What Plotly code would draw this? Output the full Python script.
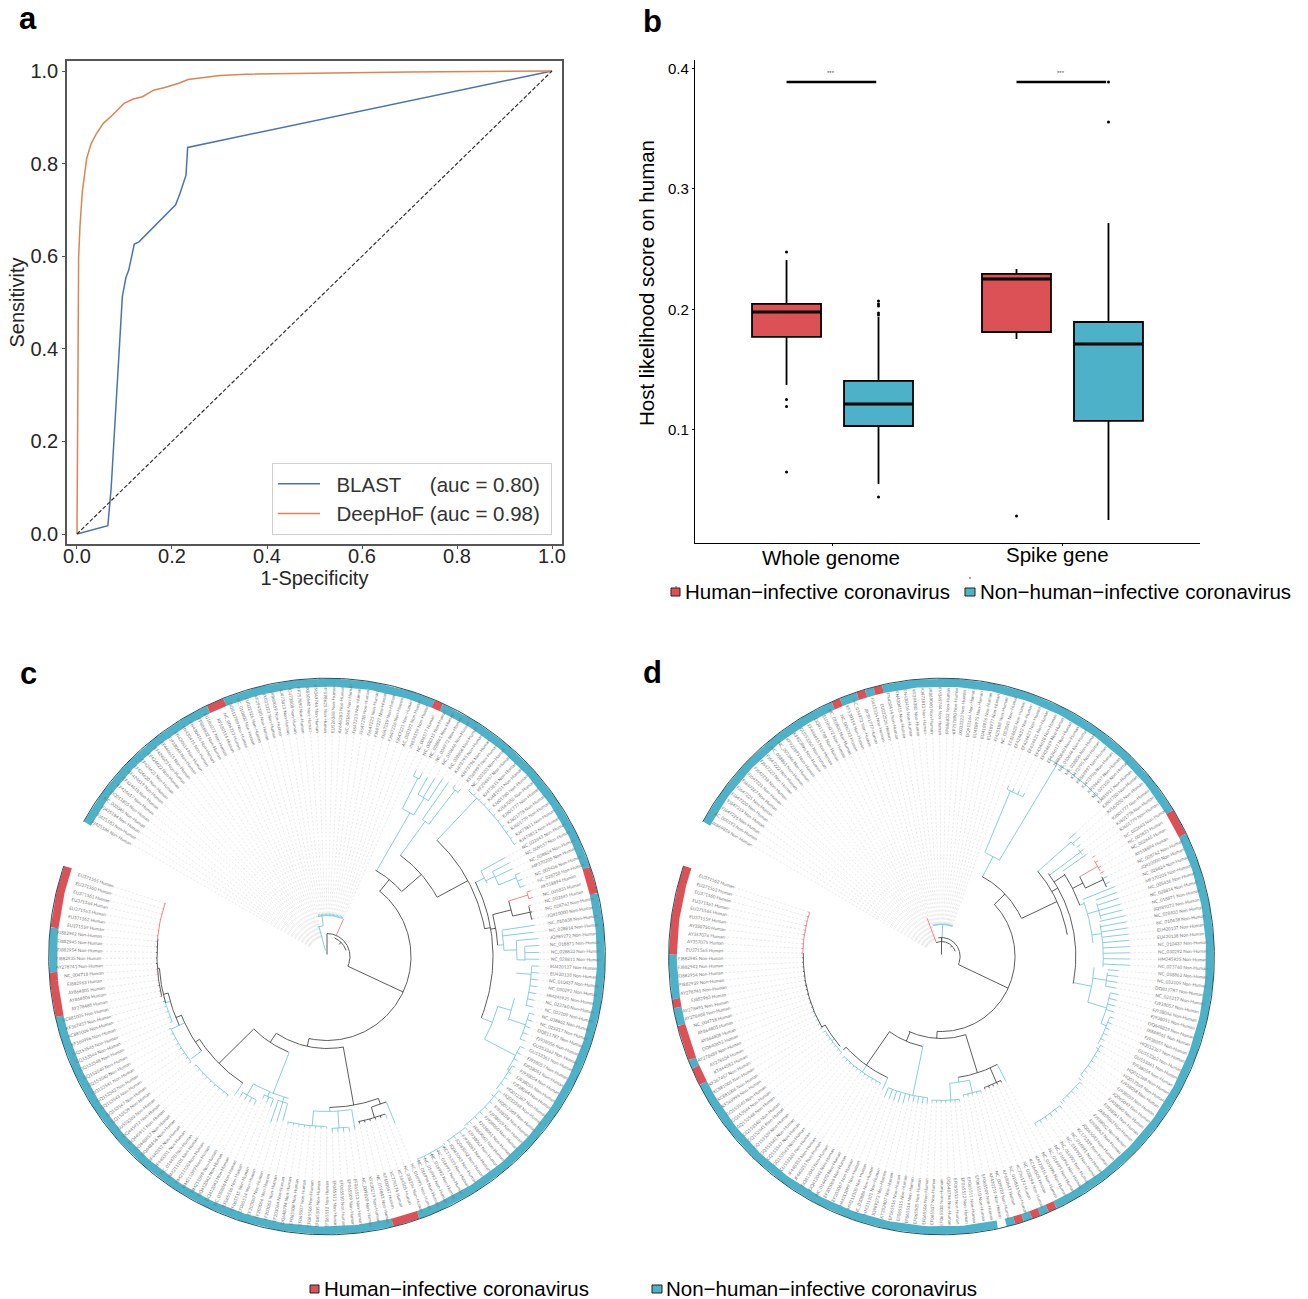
import numpy as np
import plotly.graph_objects as go

W, H = 1308, 1299
FONT = "Liberation Sans"
RED, TEAL = "#DB5155", "#4DB1C7"
TREE = {"k": "#4a4a4a", "b": "#79C8DA", "r": "#EC7A7F", "n": None}

# ---------- panel a ----------
blast_x = [0, 0.065, 0.072, 0.08, 0.087, 0.0905, 0.092, 0.0955, 0.103, 0.109, 0.115, 0.1207, 0.1305, 0.2077, 0.217, 0.2238, 0.2295, 0.233, 1.0]
blast_y = [0, 0.018, 0.1, 0.25, 0.38, 0.419, 0.455, 0.5125, 0.554, 0.570, 0.599, 0.6263, 0.631, 0.711, 0.736, 0.757, 0.775, 0.835, 1.0]
deep_x = [0, 0.0005, 0.001, 0.0015, 0.0035, 0.0063, 0.0112, 0.0204, 0.0295, 0.04, 0.0554, 0.075, 0.099, 0.1185, 0.138, 0.161, 0.185, 0.213, 0.234, 0.259, 0.301, 0.357, 0.469, 0.7, 1.0]
deep_y = [0, 0.1, 0.3, 0.419, 0.599, 0.664, 0.739, 0.811, 0.842, 0.863, 0.887, 0.905, 0.930, 0.9395, 0.9445, 0.9585, 0.9643, 0.973, 0.9817, 0.985, 0.9903, 0.9931, 0.9952, 0.998, 1.0]
chance = [0, 1]
roc_ticks = [0, 0.2, 0.4, 0.6, 0.8, 1.0]

# ---------- panel b ----------
box_groups = ["Whole genome", "Spike gene"]
x_human, x_non = [0.8, 1.8], [1.2, 2.2]
human_q1 = [0.1772, 0.1813]; human_med = [0.1979, 0.2253]; human_q3 = [0.2046, 0.2295]
human_lo = [0.1373, 0.1755]; human_hi = [0.2411, 0.2336]
non_q1 = [0.1033, 0.1075]; non_med = [0.1216, 0.1714]; non_q3 = [0.1407, 0.1896]
non_lo = [0.0552, 0.0253]; non_hi = [0.1938, 0.2718]
out_x = [0.8, 0.8, 0.8, 0.8, 1.2, 1.2, 1.2, 1.2, 1.2, 1.2, 1.8, 2.2, 2.2]
out_y = [0.2477, 0.1253, 0.1195, 0.0651, 0.2071, 0.2046, 0.2029, 0.1971, 0.1954, 0.0444, 0.0286, 0.3888, 0.3556]
bracket_x = [[0.8, 1.19], [1.8, 2.19]]
bracket_y = 0.3888
LEG_H = "Human\u2212infective coronavirus"
LEG_N = "Non\u2212human\u2212infective coronavirus"

# ---------- panels c and d: circular trees ----------
N_LEAF, LEAF_STEP, LEAF_START = 188, 1.862, 151.0
acc_c = """FJ425186 FJ425183 FJ425184 NC_003045 DQ011855 EF424617 EF424618 EF424619 EF424620 EF424621
EF424622 EF424623 EF446615 FJ938068 FN430414 FN430415 FN430416 FP886832 EU186072 KF530114
NC_006213 DQ811789 NC_010800 EU022526 KF294380 JX033323 JX869059 KJ473813 KJ473808 KP757890
JX860640 KM349744 MF598625 EU526388 AY646283 NC_001846 FJ647223 FJ647218 FJ647225 FJ647227
FJ647219 FJ647226 FJ647221 AC_000192 JN874559 NC_006577 NC_008315 NC_038861 NC_034972 NC_010646
NC_028806 KJ473795 KJ473796 KF569997 NC_022103 KF294457 KJ473815 KJ481931 KJ601780 KJ567050
KJ601777 KJ601778 KJ601779 KJ473811 KJ473812 NC_022643 NC_009657 NC_028824 MF370205 NC_005436
NC_028758 AY518894 NC_005831 NC_002645 NC_028762 JQ410000 NC_010438 NC_028814 JQ989272 NC_018871
NC_028833 NC_028811 EU420137 EU420138 NC_010437 NC_030292 HM245925 NC_023760 NC_032109 NC_038862
NC_025217 DQ811787 FJ938056 GU553362 GU553361 FJ938057 FJ938051 FJ938054 FJ938055 FJ938064
HQ012367 HQ012368 HQ012369 FJ938058 FJ938059 FJ938060 FJ938061 JX869060 FJ938062 FJ938063
JQ065042 JQ065043 KC175339 NC_016991 NC_016992 NC_016993 NC_016994 NC_016995 NC_038294 KC164505
KC776174 KF600647 NC_019843 KF430219 NC_009020 EF065513 EF065509 EF065510 EF065511 EF065512
EF065505 EF065506 EF065507 EF065508 DQ648794 EF203064 EF203065 EF203066 EF203067 EF065514
EF065515 EF065516 NC_030886 DQ412043 DQ412042 HM211098 HM211099 HM211100 HM211101 NC_014470
JF440351 JF440352 DQ648856 DQ648857 DQ445911 DQ445912 GU553363 GQ153539 GQ153547 GQ153543
GQ153542 GQ153541 GQ153540 GQ153549 GQ153548 GQ153544 GQ153545 KF569996 KC881006 KF367457 KC881005
AY278488 AY864806 AY864805 FJ882963 NC_004718 AY278741 FJ882935 FJ882954 FJ882945 FJ882942
EU371559 EU371562 EU371563 EU371564 EU371561 EU371560 EU371565""".split()
acc_d = """JX869859 AC_000192 FJ647226 FJ647219 FJ647220 FJ647225 FJ647227 FJ647221 FJ647218 FJ647223
FJ647222 NC_038861 NC_001846 KF923895 KF923896 GU553360 EF446615 DQ811789 EU186072 NC_010800
NC_006213 KF530114 NC_034972 AY391777 FJ415324 EU022526 FN430414 FN430415 FN430416 KF294380
KJ473813 JX869060 KM349744 FP886832 KP757890 JX033323 DQ915164 EU418975 EU418976 EU418977
FJ425188 NC_003045 EF424620 EF424622 EF424623 EF424621 EF424618 EF424619 EF424617 JX860640
NC_010646 NC_028806 KJ473795 KF569997 KJ473796 KF294457 NC_022103 KJ481931 KJ601780 KJ567050
KJ601777 KJ601778 KJ601779 NC_022643 NC_005831 NC_002645 AY518894 NC_028762 JQ410000 NC_028824
MF370205 NC_005436 NC_028814 NC_018871 JQ989272 NC_028833 NC_010438 EU420137 EU420138 NC_010437
NC_030292 HM245925 NC_023760 NC_038862 NC_032109 DQ811787 NC_025217 FJ938057 FJ938056 FJ938051
DQ648819 JX869061 FJ938055 HQ012367 GU553362 GU553361 FJ938054 HQ012368 HQ012369 FJ938058
FJ938059 JQ065042 FJ938060 FJ938061 JX869062 FJ938062 FJ938063 JQ065043 KC175339 NC_016991
NC_016992 NC_016993 NC_016994 NC_016995 NC_016996 KJ473816 KC164505 NC_038294 KC776174 NC_019843
KF600647 NC_009020 KF430219 EF065509 EF065510 EF065511 EF065512 EF065513 DQ648794 EF065508
EF065507 EF065506 EF065505 EF065514 EF065515 EF065516 KY352407 JQ989273 HM211101 NC_030886
HM211100 HM211099 EF203067 EF203066 NC_014470 DQ412042 DQ412043 JF440351 JF440352 GU553363
GQ153543 GQ153547 GQ153542 GQ153539 GQ153541 GQ153540 GQ153548 GQ153544 GQ153545 KF569996
KC881006 KC881005 KF367457 KT444582 AY278554 AY278489 DQ640652 AY864806 AY864805 NC_004718
AY278488 AY278491 FJ882963 AY278741 FJ882939 FJ882954 FJ882942 FJ882945
EU371565 AY357075 AY357076 AY350750 EU371559 EU371564 EU371561 EU371560 EU371563 EU371562""".split()
human_c = [19, 20, 45, 71, 72, 73, 119, 120, 121, 171, 172, 173, 174, 175, 181, 182, 183, 184, 185, 186, 187]
human_d = [20, 23, 25, 64, 65, 66, 116, 118, 120, 163, 164, 166, 167, 168, 169, 172, 178, 179, 180, 181, 182, 183, 184, 185, 186, 187]
ring_gap_d = [122]

# leaf runs: count, parent depth, tip depth, colour
leaf_runs_c = [(26, 20, 20, "n"), (19, 41, 43, "b"), (1, 23, 41, "r"), (2, 200, 206, "b"), (1, 186, 205, "b"), (1, 186, 208, "b"),
    (1, 186, 212, "b"), (1, 167, 212, "b"), (2, 210, 214, "b"), (11, 218, 220, "b"), (1, 176, 204, "b"), (2, 186, 205, "b"),
    (3, 205, 210, "b"), (2, 210, 214, "r"), (1, 208, 210, "r"), (1, 208, 210, "k"), (1, 208, 210, "b"), (1, 177, 210, "b"),
    (1, 177, 208, "b"), (1, 190, 212, "b"), (3, 198, 212, "b"), (4, 205, 212, "b"), (3, 205, 212, "b"), (5, 210, 215, "b"),
    (3, 213, 217, "b"), (4, 215, 218, "b"), (7, 218, 221, "b"), (4, 220, 223, "b"), (5, 222, 225, "b"), (1, 157, 180, "b"),
    (1, 168, 172, "b"), (5, 168, 170, "k"), (1, 155, 175, "b"), (4, 172, 176, "b"), (8, 170, 172, "b"), (1, 152, 170, "b"),
    (1, 152, 172, "b"), (1, 152, 175, "b"), (1, 152, 160, "b"), (1, 152, 158, "b"), (1, 152, 156, "b"), (4, 160, 165, "b"),
    (1, 152, 166, "b"), (9, 170, 172, "b"), (8, 172, 174, "b"), (5, 168, 170, "b"), (3, 170, 171, "k"), (3, 170, 171, "r"),
    (5, 170, 171, "k"), (7, 170, 171, "r")]
leaf_runs_d = [(21, 18, 18, "n"), (1, 15, 41, "r"), (2, 18, 18, "n"), (20, 32, 33, "b"), (4, 180, 184, "b"), (10, 226, 228, "b"),
    (2, 175, 185, "b"), (2, 176, 180, "b"), (1, 150, 180, "b"), (3, 183, 186, "r"), (1, 182, 186, "r"), (2, 182, 187, "b"),
    (1, 155, 190, "b"), (4, 167, 190, "b"), (9, 165, 192, "b"), (4, 170, 181, "b"), (4, 176, 184, "b"), (5, 182, 186, "b"),
    (1, 185, 188, "b"), (6, 185, 188, "b"), (5, 189, 192, "b"), (6, 192, 195, "b"), (1, 122, 141, "b"), (5, 138, 140, "k"),
    (5, 140, 142, "b"), (7, 144, 146, "b"), (5, 142, 148, "b"), (5, 142, 152, "b"), (1, 133, 146, "b"), (11, 141, 143, "b"),
    (7, 140, 142, "b"), (5, 141, 143, "b"), (12, 141, 142, "k"), (10, 141.5, 143, "r")]

# internal nodes: angle, parent depth, depth, arc start angle, arc end angle, colour
nodes_c = [(90, 2, 23, 90, -25, "k"), (45, 17, 20, 68, 18, "k"), (105, 6, 31, 108, 97, "b"), (97, 31, 41, 102.8, 68.2, "b"),
    (-25, 23, 84, 51.5, -102.4, "k"), (51, 84, 99, 60.7, 41.2, "k"), (60, 99, 166, 63, 58.5, "b"), (63, 166, 200, 64.4, 62.6, "b"),
    (58.5, 166, 186, 60.7, 56.9, "b"), (41, 99, 125, 54.1, 28.5, "k"), (54, 125, 167, 55.1, 52.4, "b"), (52.4, 167, 210, 53.2, 51.3, "b"),
    (28.3, 125, 160, 46.6, 10, "k"), (46.6, 160, 218, 49.5, 30.9, "b"), (10, 160, 166, 26.7, -21.7, "k"), (26.5, 166, 176, 29, 24.6, "b"),
    (25.5, 176, 186, 27.1, 22.6, "b"), (22.6, 186, 205, 23.4, 19.6, "b"), (9.5, 166, 171, 14.2, 3.8, "k"), (14.2, 171, 190, 17, 12.3, "k"),
    (17, 190, 210, 17.7, 15.9, "r"), (12.3, 190, 208, 14, 10.2, "k"), (3.8, 171, 177, 8.4, 2, "b"), (2, 177, 190, 4.6, -1, "b"),
    (-1, 190, 198, 2.8, -1.2, "b"), (-5, 190, 205, -2.8, -14, "b"), (-21.7, 166, 178, -16.3, -27.7, "b"), (-16.3, 178, 192, -12.5, -19.5, "b"),
    (-19, 192, 210, -15.7, -23.2, "b"), (-27.7, 178, 213, -25, -32, "b"), (-32, 213, 215, -30.6, -38, "b"), (-40, 215, 218, -38, -51, "b"),
    (-50, 218, 220, -51, -57, "b"), (-58, 220, 222, -58.5, -66, "b"), (-102.4, 84, 92, -123.3, -79.7, "k"), (-123.5, 92, 103, -135.2, -111.9, "k"),
    (-79.8, 92, 151, -89, -70.1, "k"), (-70.1, 151, 157, -67.9, -73.6, "k"), (-73.6, 157, 168, -69.8, -79.2, "k"), (-89, 151, 155, -81, -95, "b"),
    (-86, 155, 172, -82.9, -88.5, "b"), (-95, 155, 170, -90.4, -103.4, "b"), (-111.5, 103, 147, -105.2, -120, "b"), (-107, 147, 152, -105.2, -108.9, "b"),
    (-113, 147, 152, -110.8, -114.6, "b"), (-120, 147, 160, -116.4, -122, "b"), (-135.3, 103, 152, -123.6, -147, "k"), (-147, 152, 157, -143, -158, "k"),
    (-158, 157, 163, -155, -167, "k"), (-167, 163, 168, -164, -176, "k"), (-176, 168, 170, -166.7, -186, "k"), (-186, 170, 170.5, -186, -198.3, "r"),
    (-143, 157, 170, -125.5, -140.4, "b"), (-155, 157, 172, -142.3, -155.3, "b"), (-164, 163, 168, -157.2, -164.6, "b")]
nodes_d = [(90, 2, 19, 100, -25, "k"), (45, 13, 15, 111.9, 20, "k"), (88, 15, 32, 105.4, 70, "b"), (-25, 19, 75, 44, -93.4, "k"),
    (44, 75, 90, 62.5, 25.2, "k"), (62.3, 90, 113, 66.7, 58.2, "b"), (67, 113, 180, 68.1, 62.6, "b"), (58.5, 113, 226, 60.7, 43.8, "b"),
    (25, 90, 130, 41, 9.7, "k"), (40.9, 130, 175, 41, 39.2, "b"), (30, 130, 137, 37.3, -11.4, "k"), (36.4, 137, 176, 37.3, 35.4, "b"),
    (33, 137, 150, 33.5, 20, "k"), (27, 150, 162, 29.5, 25, "k"), (29.5, 162, 183, 31.6, 27.9, "r"), (25, 162, 182, 26, 22.4, "k"),
    (20, 150, 155, 20.6, 5, "b"), (16, 155, 167, 18.6, 13, "b"), (8, 155, 165, 11.2, -3.6, "b"), (-11, 137, 156, -4, -17, "b"),
    (-8, 156, 170, -5.5, -10.1, "b"), (-17, 156, 176, -12, -22.4, "b"), (-22.4, 176, 182, -19.5, -28.7, "b"), (-30, 182, 185, -28.7, -39.8, "b"),
    (-41, 185, 189, -41.7, -49.2, "b"), (-50, 189, 192, -51, -60.3, "b"), (-93.4, 75, 82, -72.5, -114, "k"), (-72.5, 82, 122, -62.2, -82, "k"),
    (-66, 122, 138, -64, -71.5, "k"), (-82, 122, 127, -77, -86.2, "b"), (-77, 127, 140, -73.4, -80.8, "b"), (-86.2, 127, 144, -82.7, -93.9, "b"),
    (-113, 82, 92, -102.3, -125.2, "k"), (-101.9, 92, 142, -95.7, -112.5, "b"), (-125.2, 92, 133, -114.4, -137, "k"), (-125, 133, 141, -116.2, -134.9, "b"),
    (-137, 133, 137, -139, -150, "k"), (-143, 137, 140, -136.7, -147.9, "b"), (-150, 137, 141, -149.8, -181.4, "k"), (-190, 141, 141.5, -181.4, -198.1, "r")]

for lst in (acc_c, acc_d):
    assert len(lst) == N_LEAF, f"accessions {len(lst)}"
for runs in (leaf_runs_c, leaf_runs_d):
    assert sum(r[0] for r in runs) == N_LEAF, f"leaf runs {sum(r[0] for r in runs)}"


def xdom(a, b):
    return [a / W, b / W]


def ydom(top, bottom):
    return [1 - bottom / H, 1 - top / H]


def pos(r, t):
    a = np.radians(t)
    return r * np.cos(a), r * np.sin(a)


def leaf_angle(i):
    return LEAF_START - (i + 0.5) * LEAF_STEP


fig = go.Figure()
annots, shapes = [], []


def ptext(x, y, text, size, bold=False, color="#000", anchor="left", angle=0):
    annots.append(dict(xref="paper", yref="paper", x=x / W, y=1 - y / H, text=f"<b>{text}</b>" if bold else text, showarrow=False,
                       xanchor=anchor, yanchor="middle", font=dict(family=FONT, size=size, color=color), borderpad=0, borderwidth=0, textangle=angle))


# --- a
fig.add_trace(go.Scatter(x=blast_x, y=blast_y, mode="lines", line=dict(color="#4C72B0", width=1.5), xaxis="x", yaxis="y",
                         name="\u00a0\u00a0BLAST\u00a0\u00a0\u00a0\u00a0\u00a0(auc = 0.80)\u00a0"))
fig.add_trace(go.Scatter(x=deep_x, y=deep_y, mode="lines", line=dict(color="#DD8452", width=1.5), xaxis="x", yaxis="y",
                         name="\u00a0\u00a0DeepHoF (auc = 0.98)\u00a0"))
fig.add_trace(go.Scatter(x=chance, y=chance, mode="lines", line=dict(color="#333", width=1.2, dash="4px,2px"), xaxis="x", yaxis="y", showlegend=False))

# --- b
for xs, q1, med, q3, lo, hi, col in ((x_human, human_q1, human_med, human_q3, human_lo, human_hi, RED),
                                      (x_non, non_q1, non_med, non_q3, non_lo, non_hi, TEAL)):
    fig.add_trace(go.Box(x=xs, q1=q1, median=med, q3=q3, lowerfence=lo, upperfence=hi, width=0.3, whiskerwidth=0, boxpoints=False,
                         fillcolor=col, line=dict(color="#000", width=1.8), xaxis="x2", yaxis="y2", showlegend=False))
    mx, my = [], []
    for c, m in zip(xs, med):
        mx += [c - 0.15, c + 0.15, None]
        my += [m, m, None]
    fig.add_trace(go.Scatter(x=mx, y=my, mode="lines", line=dict(color="#000", width=3), xaxis="x2", yaxis="y2", showlegend=False))
fig.add_trace(go.Scatter(x=out_x, y=out_y, mode="markers", marker=dict(color="#000", size=3), xaxis="x2", yaxis="y2", showlegend=False))
for bx in bracket_x:
    fig.add_trace(go.Scatter(x=bx, y=[bracket_y, bracket_y], mode="lines", line=dict(color="#000", width=2.4), xaxis="x2", yaxis="y2", showlegend=False))
    annots.append(dict(xref="x2", yref="y2", x=sum(bx) / 2, y=bracket_y, yshift=9, text="***", showarrow=False,
                       font=dict(family=FONT, size=6, color="#555")))
annots.append(dict(xref="x2", yref="paper", x=1, y=1 - 557 / H, xshift=-1.5, text=box_groups[0], showarrow=False, yanchor="middle",
                   font=dict(family=FONT, size=20.5, color="#000")))
annots.append(dict(xref="x2", yref="paper", x=2, y=1 - 554 / H, xshift=-5, text=box_groups[1], showarrow=False, yanchor="middle",
                   font=dict(family=FONT, size=20.5, color="#000")))
ptext(646, 283, "Host likelihood score on human", 20.5, anchor="center", angle=-90)


def legend_pair(xr0, xt0, xr1, xt1, y):
    for x0, x1, col, tx, txt in ((xr0, xr0 + 9, RED, xt0, LEG_H), (xr1, xr1 + 10, TEAL, xt1, LEG_N)):
        shapes.append(dict(type="rect", xref="paper", yref="paper", x0=x0 / W, x1=x1 / W, y0=1 - (y + 5) / H, y1=1 - (y - 3) / H,
                           fillcolor=col, line=dict(color="#222", width=1)))
        ptext(tx, y, txt, 20.5)


legend_pair(671, 685, 965, 980, 591)
legend_pair(310, 324, 652, 666, 1288)
for sx, sy0, sy1 in ((676, 586, 588), (970, 577, 579)):
    shapes.append(dict(type="line", xref="paper", yref="paper", x0=sx / W, x1=sx / W, y0=1 - sy0 / H, y1=1 - sy1 / H, line=dict(color="#555", width=1)))
for letter, x, y in (("a", 19, 18), ("b", 643, 22), ("c", 20, 673), ("d", 643, 672)):
    ptext(x, y, letter, 31, bold=True)


# --- c, d
def tree(acc, human, gaps, runs, nodes, xa, ya, inner):
    buckets = {"k": ([], []), "b": ([], []), "r": ([], [])}
    gx, gy = [], []

    def seg(c, xs, ys):
        buckets[c][0].extend(list(xs) + [None])
        buckets[c][1].extend(list(ys) + [None])

    for th, r0, r1, a0, a1, col in nodes:
        x, y = pos(np.array([r0, r1]), th)
        seg(col, x, y)
        n = max(2, int(abs(a1 - a0)) + 2)
        x, y = pos(r1, np.linspace(a0, a1, n))
        seg(col, x, y)
    i = 0
    for count, par, tip, col in runs:
        for _ in range(count):
            th = leaf_angle(i)
            if col != "n":
                x, y = pos(np.array([par, tip]), th)
                seg(col, x, y)
            x, y = pos(np.array([tip, inner]), th)
            gx += list(x) + [None]
            gy += list(y) + [None]
            i += 1
    fig.add_trace(go.Scatter(x=gx, y=gy, mode="lines", line=dict(color="#e0e0e0", width=0.7, dash="2px,2px"), xaxis=xa, yaxis=ya,
                             showlegend=False, hoverinfo="skip"))
    for c in ("b", "k", "r"):
        fig.add_trace(go.Scatter(x=buckets[c][0], y=buckets[c][1], mode="lines", line=dict(color=TREE[c], width=0.9), xaxis=xa, yaxis=ya,
                                 showlegend=False, hoverinfo="skip"))
    # ring: contiguous leaves of one class form one arc
    rings = {TEAL: ([], []), RED: ([], [])}

    def cls(k):
        return None if k in gaps else (RED if k in human else TEAL)

    start = 0
    for i in range(1, N_LEAF + 1):
        if i == N_LEAF or cls(i) != cls(start):
            c = cls(start)
            if c:
                a0 = leaf_angle(start) + LEAF_STEP / 2
                a1 = leaf_angle(i - 1) - LEAF_STEP / 2
                x, y = pos(274.0, np.linspace(a0, a1, max(3, int(abs(a1 - a0)) + 2)))
                rings[c][0].extend(list(x) + [None])
                rings[c][1].extend(list(y) + [None])
            start = i
    for c, (x, y) in rings.items():
        fig.add_trace(go.Scatter(x=x, y=y, mode="lines", line=dict(color=c, width=8), xaxis=xa, yaxis=ya, showlegend=False, hoverinfo="skip"))
    edge = np.arange(LEAF_START, LEAF_START - N_LEAF * LEAF_STEP, -1.0)
    x, y = pos(278.3, edge)
    fig.add_trace(go.Scatter(x=x, y=y, mode="lines", line=dict(color="#27505c", width=1), xaxis=xa, yaxis=ya, showlegend=False, hoverinfo="skip"))
    # labels
    for i, a in enumerate(acc):
        th = leaf_angle(i)
        txt = a + (" Human" if i in human else " Non-Human")
        length = 2.28 * len(txt)
        x, y = pos(inner + 1 + length / 2, th)
        ang = -th if -90 <= th <= 90 else 180 - th
        annots.append(dict(xref=xa, yref=ya, x=float(x), y=float(y), text=txt, showarrow=False, textangle=float(ang), xanchor="center",
                           yanchor="middle", font=dict(family="Lato", size=4.5, color="#777"), borderpad=0))


tree(acc_c, human_c, [], leaf_runs_c, nodes_c, "x3", "y3", 226)
tree(acc_d, human_d, ring_gap_d, leaf_runs_d, nodes_d, "x4", "y4", 224)

tick_font = dict(family=FONT, size=20, color="#262626")
fig.update_layout(
    width=W, height=H, margin=dict(l=0, r=0, t=0, b=0, autoexpand=False), paper_bgcolor="white", plot_bgcolor="white",
    showlegend=True, boxmode="overlay",
    legend=dict(x=272 / W, y=1 - 463 / H, xanchor="left", yanchor="top", bordercolor="#d0d0d0", borderwidth=1, bgcolor="white",
                font=dict(family=FONT, size=20.5, color="#333"), itemwidth=42, tracegroupgap=0),
    xaxis=dict(domain=xdom(67, 562), range=[-0.021, 1.021], anchor="y", tickvals=roc_ticks, tickformat=".1f", ticks="outside", ticklen=3,
               tickcolor="#555", showgrid=False, zeroline=False, showline=True, mirror=True, linecolor="#555", linewidth=1.5, tickfont=tick_font,
               ticklabelstandoff=-10, title=dict(text="1-Specificity", font=tick_font, standoff=2)),
    yaxis=dict(domain=ydom(61, 544), range=[-0.0216, 1.0216], anchor="x", tickvals=roc_ticks, tickformat=".1f", ticks="outside", ticklen=3,
               tickcolor="#555", showgrid=False, zeroline=False, showline=True, mirror=True, linecolor="#555", linewidth=1.5, tickfont=tick_font,
               title=dict(text="Sensitivity", font=tick_font, standoff=0)),
    xaxis2=dict(domain=xdom(695, 1200), range=[0.402, 2.598], anchor="y2", tickvals=[1, 2], ticktext=["", ""], ticks="outside", ticklen=2,
                tickcolor="#000", showgrid=False, zeroline=False, showline=True, linecolor="#000", linewidth=1.2),
    yaxis2=dict(domain=ydom(60, 543), range=[0.00622, 0.407], anchor="x2", tickvals=[0.1, 0.2, 0.3, 0.4], tickformat=".1f", ticks="outside", ticklen=2,
                tickcolor="#000", showgrid=False, zeroline=False, showline=True, linecolor="#000", linewidth=1.2,
                tickfont=dict(family=FONT, size=15, color="#000")),
    xaxis3=dict(domain=xdom(27, 627), range=[-300, 300], anchor="y3", visible=False, fixedrange=True),
    yaxis3=dict(domain=ydom(656.5, 1256.5), range=[-300, 300], anchor="x3", visible=False, fixedrange=True),
    xaxis4=dict(domain=xdom(641.5, 1241.5), range=[-306, 306], anchor="y4", visible=False, fixedrange=True),
    yaxis4=dict(domain=ydom(656.5, 1256.5), range=[-300, 300], anchor="x4", visible=False, fixedrange=True),
    annotations=annots, shapes=shapes,
)
fig.write_html("out.html", config={"displayModeBar": False},
               post_script="document.body.style.margin='0';document.documentElement.style.overflow='hidden';")
